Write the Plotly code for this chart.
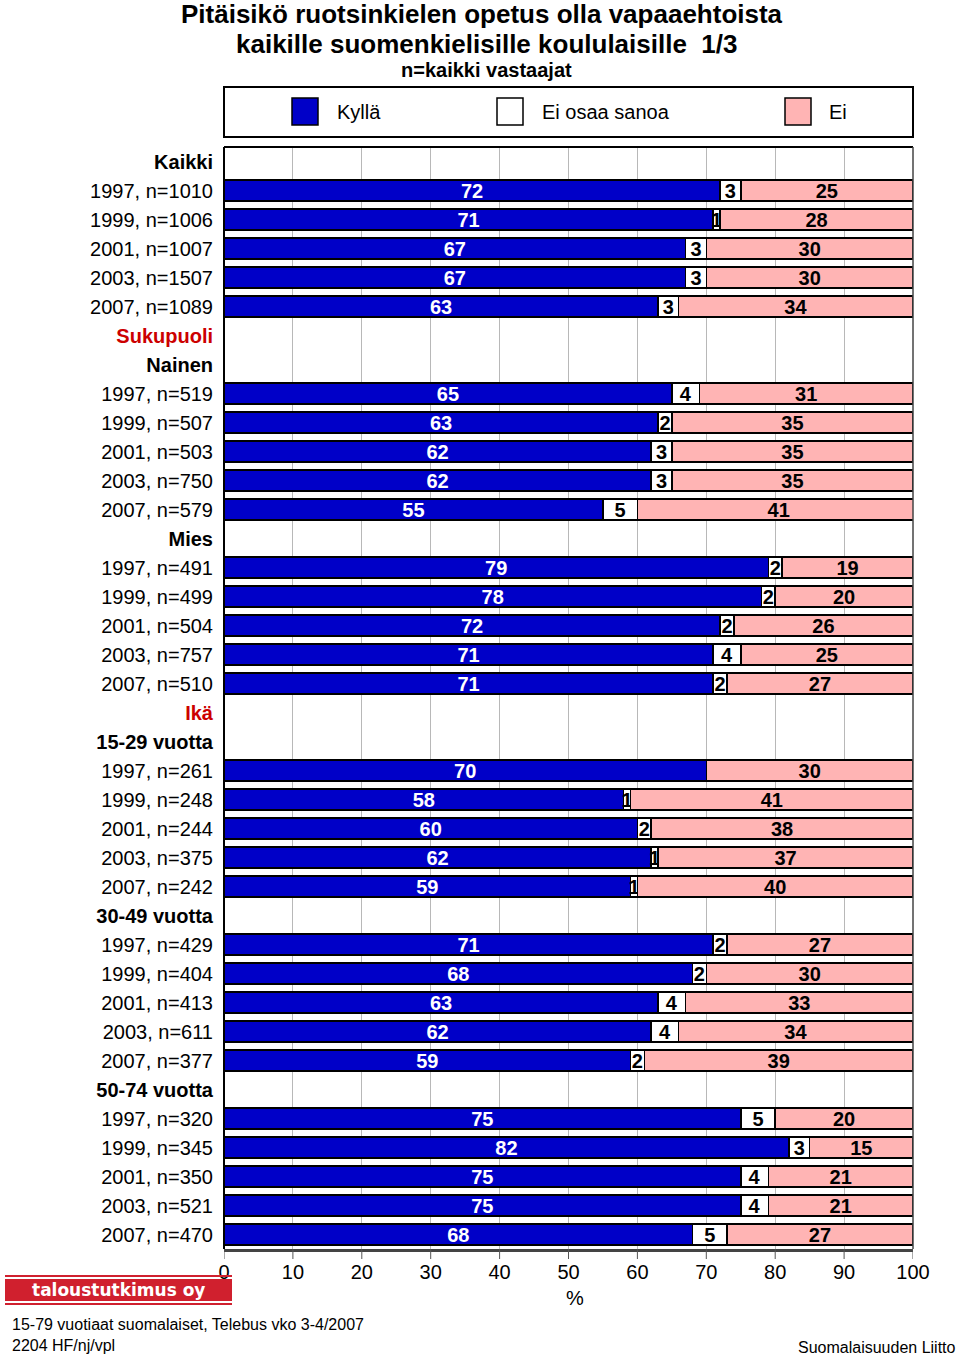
import plotly.graph_objects as go

# ---------------- data ----------------
categories = [
    "Kaikki", "1997, n=1010", "1999, n=1006", "2001, n=1007", "2003, n=1507", "2007, n=1089",
    "Sukupuoli",
    "Nainen", "1997, n=519", "1999, n=507", "2001, n=503", "2003, n=750", "2007, n=579",
    "Mies", "1997, n=491", "1999, n=499", "2001, n=504", "2003, n=757", "2007, n=510",
    "Ikä",
    "15-29 vuotta", "1997, n=261", "1999, n=248", "2001, n=244", "2003, n=375", "2007, n=242",
    "30-49 vuotta", "1997, n=429", "1999, n=404", "2001, n=413", "2003, n=611", "2007, n=377",
    "50-74 vuotta", "1997, n=320", "1999, n=345", "2001, n=350", "2003, n=521", "2007, n=470",
]
section_headers = ["Sukupuoli", "Ikä"]
group_headers = ["Kaikki", "Nainen", "Mies", "15-29 vuotta", "30-49 vuotta", "50-74 vuotta"]

kylla = [None, 72, 71, 67, 67, 63,
         None,
         None, 65, 63, 62, 62, 55,
         None, 79, 78, 72, 71, 71,
         None,
         None, 70, 58, 60, 62, 59,
         None, 71, 68, 63, 62, 59,
         None, 75, 82, 75, 75, 68]
eos = [None, 3, 1, 3, 3, 3,
       None,
       None, 4, 2, 3, 3, 5,
       None, 2, 2, 2, 4, 2,
       None,
       None, 0, 1, 2, 1, 1,
       None, 2, 2, 4, 4, 2,
       None, 5, 3, 4, 4, 5]
ei = [None, 25, 28, 30, 30, 34,
      None,
      None, 31, 35, 35, 35, 41,
      None, 19, 20, 26, 25, 27,
      None,
      None, 30, 41, 38, 37, 40,
      None, 27, 30, 33, 34, 39,
      None, 20, 15, 21, 21, 27]

series_names = ["Kyllä", "Ei osaa sanoa", "Ei"]
x_ticks = [0, 10, 20, 30, 40, 50, 60, 70, 80, 90, 100]

# ---------------- styling ----------------
W, H = 960, 1357
L, R, T, B = 224, 913, 147, 1249   # plot area in page pixels
FONT = "Liberation Sans, Arial, sans-serif"
BLUE = "#0000c8"
PINK = "#ffb4b4"
WHITE = "#ffffff"
RED_LBL = "#cc0000"
LOGO_RED = "#d0202e"


def px_x(px):
    return (px - L) / (R - L)


def px_y(py):
    return (B - py) / (B - T)


def fmt_label(c):
    if c in section_headers:
        return f"<b><span style='color:{RED_LBL}'>{c}</span></b>"
    if c in group_headers:
        return f"<b>{c}</b>"
    return c


def txt(vals):
    return [str(v) if v else "" for v in vals]


fig = go.Figure()
for name, vals, color, tcol in [
    (series_names[0], kylla, BLUE, "white"),
    (series_names[1], eos, WHITE, "black"),
    (series_names[2], ei, PINK, "black"),
]:
    fig.add_trace(go.Bar(
        y=categories, x=vals, name=name, orientation="h",
        marker=dict(color=color, line=dict(color="black", width=1.5)),
        width=0.72,
        text=txt(vals), textposition="inside", insidetextanchor="middle",
        textangle=0, constraintext="none",
        textfont=dict(family=FONT, size=20, color=tcol, weight="bold"),
        showlegend=False, cliponaxis=True,
        hoverinfo="skip",
    ))

fig.update_layout(
    width=W, height=H,
    margin=dict(l=L, r=W - R, t=T, b=H - B, pad=0),
    barmode="stack", bargap=0.28,
    plot_bgcolor="white", paper_bgcolor="white",
    uniformtext=dict(mode=False),
    font=dict(family=FONT, size=20, color="black"),
)

fig.update_xaxes(
    range=[0, 100], tickvals=x_ticks, ticktext=[str(v) for v in x_ticks],
    showgrid=True, gridcolor="#b8b8b8", gridwidth=1,
    ticks="outside", ticklen=3, tickcolor="rgba(0,0,0,0)", tickwidth=1,
    showline=True, linecolor="#444444", linewidth=3,
    tickfont=dict(family=FONT, size=20, color="black"),
    zeroline=False, fixedrange=True,
)
fig.update_yaxes(
    type="category", categoryorder="array", categoryarray=categories,
    range=[len(categories) - 0.5, -0.5],
    tickvals=categories, ticktext=[fmt_label(c) for c in categories],
    ticks="", ticklabelstandoff=10,
    tickfont=dict(family=FONT, size=20, color="black"),
    showgrid=False, zeroline=False, showline=False, fixedrange=True,
)

shapes = []
annotations = []

# x tick marks (10 px below the axis)
for t in x_ticks:
    shapes.append(dict(type="line", xref="x", yref="paper", x0=t, x1=t,
                       y0=0, y1=px_y(B + 10), line=dict(color="#555555", width=1)))

# plot frame (left, top, right)
shapes.append(dict(type="line", xref="paper", yref="paper", x0=0, x1=0, y0=0, y1=1,
                   line=dict(color="black", width=2)))
shapes.append(dict(type="line", xref="paper", yref="paper", x0=0, x1=1, y0=1, y1=1,
                   line=dict(color="black", width=2)))
shapes.append(dict(type="line", xref="paper", yref="paper", x0=1, x1=1, y0=0, y1=1,
                   line=dict(color="#444444", width=1.5)))

# legend box
shapes.append(dict(type="rect", xref="paper", yref="paper",
                   x0=px_x(224), x1=px_x(913), y0=px_y(137), y1=px_y(87),
                   line=dict(color="black", width=2), fillcolor="white"))
for (sx, tx, col, label) in [(292, 335, BLUE, series_names[0]),
                             (497, 540, WHITE, series_names[1]),
                             (785, 827, PINK, series_names[2])]:
    shapes.append(dict(type="rect", xref="paper", yref="paper",
                       x0=px_x(sx), x1=px_x(sx + 26), y0=px_y(125), y1=px_y(98),
                       line=dict(color="black", width=1.5), fillcolor=col))
    annotations.append(dict(text=label, xref="paper", yref="paper",
                            x=px_x(tx), y=px_y(112), xanchor="left", yanchor="middle",
                            showarrow=False, font=dict(family=FONT, size=20, color="black")))

# titles
annotations.append(dict(text="<b>Pitäisikö ruotsinkielen opetus olla vapaaehtoista</b>",
                        xref="paper", yref="paper", x=px_x(482), y=px_y(14),
                        xanchor="center", yanchor="middle", showarrow=False,
                        font=dict(family=FONT, size=26, color="black")))
annotations.append(dict(text="<b>kaikille suomenkielisille koululaisille  1/3</b>",
                        xref="paper", yref="paper", x=px_x(486), y=px_y(44),
                        xanchor="center", yanchor="middle", showarrow=False,
                        font=dict(family=FONT, size=26, color="black")))
annotations.append(dict(text="<b>n=kaikki vastaajat</b>",
                        xref="paper", yref="paper", x=px_x(486), y=px_y(70),
                        xanchor="center", yanchor="middle", showarrow=False,
                        font=dict(family=FONT, size=20, color="black")))

# x axis title
annotations.append(dict(text="%", xref="paper", yref="paper", x=px_x(575), y=px_y(1298),
                        xanchor="center", yanchor="middle", showarrow=False,
                        font=dict(family=FONT, size=20, color="black")))

# logo
LOGO_X0 = 5
shapes.append(dict(type="rect", xref="paper", yref="paper",
                   x0=px_x(LOGO_X0), x1=px_x(232), y0=px_y(1301), y1=px_y(1279),
                   line=dict(width=0), fillcolor=LOGO_RED))
for yy in (1276, 1304):
    shapes.append(dict(type="line", xref="paper", yref="paper",
                       x0=px_x(LOGO_X0), x1=px_x(232), y0=px_y(yy), y1=px_y(yy),
                       line=dict(color=LOGO_RED, width=2)))
annotations.append(dict(text="<b>taloustutkimus oy</b>", xref="paper", yref="paper",
                        x=px_x(118), y=px_y(1290), xanchor="center", yanchor="middle",
                        showarrow=False,
                        font=dict(family="DejaVu Sans, sans-serif", size=17, color="white")))

# footers
annotations.append(dict(text="15-79 vuotiaat suomalaiset, Telebus vko 3-4/2007",
                        xref="paper", yref="paper", x=px_x(10), y=px_y(1324),
                        xanchor="left", yanchor="middle", showarrow=False,
                        font=dict(family=FONT, size=16, color="black")))
annotations.append(dict(text="2204 HF/nj/vpl",
                        xref="paper", yref="paper", x=px_x(10), y=px_y(1345),
                        xanchor="left", yanchor="middle", showarrow=False,
                        font=dict(family=FONT, size=16, color="black")))
annotations.append(dict(text="Suomalaisuuden Liitto",
                        xref="paper", yref="paper", x=px_x(958), y=px_y(1347),
                        xanchor="right", yanchor="middle", showarrow=False,
                        font=dict(family=FONT, size=16, color="black")))

fig.update_layout(shapes=shapes, annotations=annotations)
fig.write_html(
    "out.html",
    config={"displayModeBar": False, "staticPlot": True},
    post_script="document.body.style.margin='0';document.body.style.padding='0';"
                "document.body.style.overflow='hidden';",
)
